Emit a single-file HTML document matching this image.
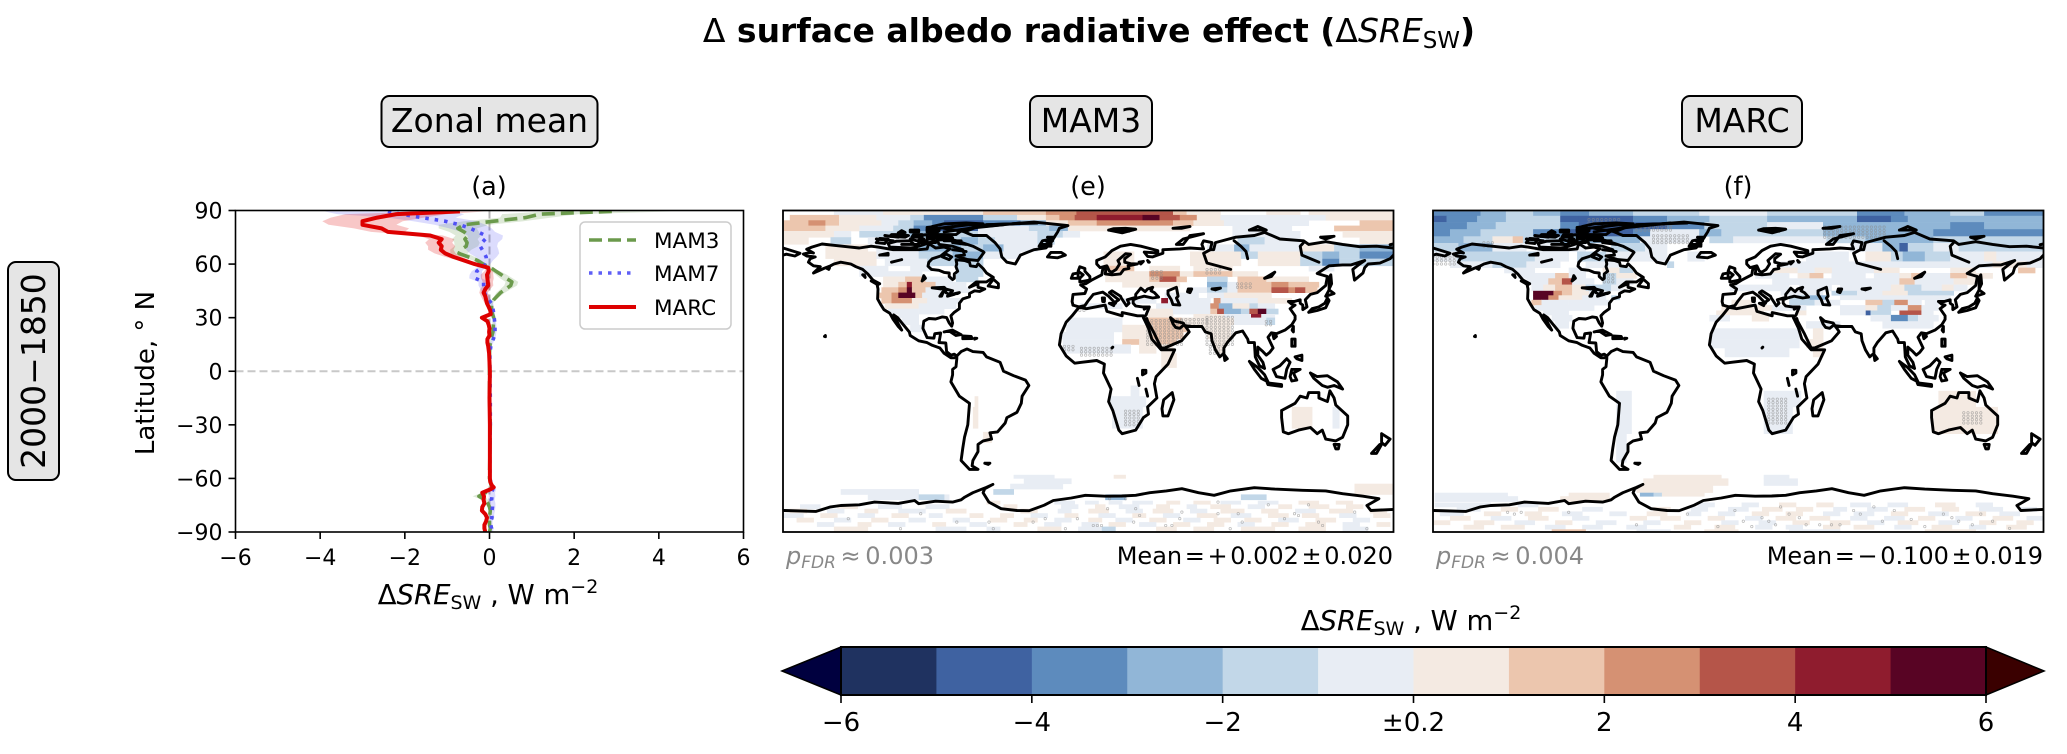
<!DOCTYPE html>
<html lang="en">
<head>
<meta charset="utf-8">
<title>Surface albedo radiative effect</title>
<style>
html,body{margin:0;padding:0;background:#fff;width:2067px;height:754px;overflow:hidden}
svg{display:block;font-family:"DejaVu Sans","Liberation Sans",sans-serif}
</style>
</head>
<body>
<svg id="fig" xmlns="http://www.w3.org/2000/svg" width="2067" height="754" viewBox="0 0 2067 754">
<defs>
<clipPath id="clip-a"><rect x="235.5" y="210.5" width="508" height="321.5"/></clipPath>
<clipPath id="clip-e"><rect x="783" y="210.5" width="610.5" height="321.5"/></clipPath>
<clipPath id="clip-f"><rect x="1433" y="210.5" width="610.5" height="321.5"/></clipPath>
</defs>
<rect width="2067" height="754" fill="#fff"/>
<text x="1089" y="42" text-anchor="middle" font-size="33" font-weight="bold"><tspan font-weight="normal">Δ</tspan> surface albedo radiative effect (<tspan font-weight="normal">Δ</tspan><tspan font-weight="normal" font-style="italic">SRE</tspan><tspan font-weight="normal" font-size="23" dy="6">SW</tspan><tspan dy="-6">)</tspan></text>

<g><rect x="381.5" y="96" width="216" height="51" rx="8" fill="#e5e5e5" stroke="#000" stroke-width="2"/><text x="489.5" y="132" text-anchor="middle" font-size="33">Zonal mean</text></g>
<g><rect x="1030" y="96" width="122" height="51" rx="8" fill="#e5e5e5" stroke="#000" stroke-width="2"/><text x="1091" y="132" text-anchor="middle" font-size="33">MAM3</text></g>
<g><rect x="1682" y="96" width="120" height="51" rx="8" fill="#e5e5e5" stroke="#000" stroke-width="2"/><text x="1742" y="132" text-anchor="middle" font-size="33">MARC</text></g>
<g><rect x="8" y="262" width="51" height="218" rx="8" fill="#e5e5e5" stroke="#000" stroke-width="2"/><text transform="translate(45,371) rotate(-90)" text-anchor="middle" font-size="33">2000−1850</text></g>

<text x="489" y="195" text-anchor="middle" font-size="25.5">(a)</text>
<text x="1088" y="195" text-anchor="middle" font-size="25.5">(e)</text>
<text x="1738" y="195" text-anchor="middle" font-size="25.5">(f)</text>

<g id="zonal"></g>
<text transform="translate(154,373) rotate(-90)" text-anchor="middle" font-size="26">Latitude, ° N</text>
<text x="488" y="604" text-anchor="middle" font-size="27.5">Δ<tspan font-style="italic">SRE</tspan><tspan font-size="19" dy="5">SW</tspan><tspan dy="-5"> , W m</tspan><tspan font-size="19" dy="-11">−2</tspan></text>

<g>
<rect x="580" y="222" width="151" height="107" rx="5" fill="#fff" fill-opacity=".85" stroke="#ccc" stroke-width="1.5"/>
<line x1="589" x2="636" y1="240" y2="240" stroke="#6b9a4c" stroke-width="3.5" stroke-dasharray="13 6"/>
<text x="654" y="248" font-size="21.5">MAM3</text>
<line x1="589" x2="636" y1="273" y2="273" stroke="#5e5ef5" stroke-width="3.5" stroke-dasharray="3.5 6"/>
<text x="654" y="281" font-size="21.5">MAM7</text>
<line x1="589" x2="636" y1="307" y2="307" stroke="#dd0000" stroke-width="4"/>
<text x="654" y="315" font-size="21.5">MARC</text>
</g>

<g id="map-e"></g>
<g id="map-f"></g>

<text x="786" y="564" font-size="24" fill="#888" word-spacing="-3"><tspan font-style="italic">p</tspan><tspan font-style="italic" font-size="17" dy="4">FDR</tspan><tspan dy="-4"> ≈ 0.003</tspan></text>
<text x="1393" y="564" text-anchor="end" font-size="24" word-spacing="-5">Mean = + 0.002 ± 0.020</text>
<text x="1436" y="564" font-size="24" fill="#888" word-spacing="-3"><tspan font-style="italic">p</tspan><tspan font-style="italic" font-size="17" dy="4">FDR</tspan><tspan dy="-4"> ≈ 0.004</tspan></text>
<text x="2043" y="564" text-anchor="end" font-size="24" word-spacing="-5">Mean = − 0.100 ± 0.019</text>

<g id="cbar"></g>
<text x="1411" y="630" text-anchor="middle" font-size="27.5">Δ<tspan font-style="italic">SRE</tspan><tspan font-size="19" dy="5">SW</tspan><tspan dy="-5"> , W m</tspan><tspan font-size="19" dy="-11">−2</tspan></text>
</svg>

<script>
/* ---------- zonal mean data ---------- */
const lats = [89.5,88,86,84,82,80,78,76,74,72,70,68,66,64,62,60,58,56,54,52,50,48,46,44,42,40,38,36,34,32,30,28,26,24,22,20,18,16,14,10,0,-15,-30,-45,-60,-62,-64,-65,-66,-68,-70,-72,-74,-76,-78,-80,-82,-84,-86,-88,-90];
const marcValues = [-0.7,-2.2,-2.65,-3.0,-3.0,-2.55,-2.4,-1.4,-1.13,-1.2,-1.13,-1.15,-1.05,-.85,-.6,-.35,-.03,-.02,-.06,-.05,-.04,-.03,-.1,-.14,-.1,-.08,-.06,-.02,.02,.03,-.18,-.05,-.02,0,-.01,0,-.05,-.05,-.03,-.01,.01,0,.01,.01,.01,.02,.06,.1,.03,-.17,-.13,-.14,-.12,-.17,-.18,-.1,-.06,-.08,-.12,-.12,-.1];
const mam3Values = [2.89,1.2,.85,.1,-.6,-.75,-.6,-.5,-.58,-.53,-.55,-.68,-.72,-.5,-.28,-.15,.03,.15,.28,.4,.53,.5,.38,.26,.18,.1,.05,.05,.05,.07,.1,.1,.09,.09,.08,.06,.04,.02,.01,0,0,0,.02,.01,0,.02,.04,.05,.04,-.1,-.25,-.1,-.04,0,.02,.01,0,0,0,.02,0];
const mam7Values = [-2.4,-2.1,-1.6,-1.05,-.7,-.45,-.27,-.1,-.1,-.18,-.22,-.17,-.12,-.08,-.07,-.08,-.2,-.3,-.32,-.33,-.14,-.14,-.13,-.12,-.08,-.02,.05,.07,.09,.1,.11,.12,.13,.13,.13,.12,.09,.06,.03,.01,.01,.02,.02,.01,.01,.03,.05,.07,.08,.05,.06,.05,.07,.07,.06,.05,.06,.03,.03,.05,.05];
const marcSpread = [.6,1.2,1.1,.95,.8,.65,.4,.3,.3,.32,.32,.3,.25,.2,.15,.1,.05,.1,.15,.15,.12,.12,.12,.1,.1,.08,.05,.04,.03,.03,.03,.03,.02,.02,.02,.02,.02,.02,.02,.01,.01,.01,.01,.01,.01,.02,.02,.02,.02,.03,.03,.03,.03,.03,.03,.03,.03,.03,.03,.03,.03];
const mam3Spread = [1.5,.9,.6,.7,.6,.45,.35,.3,.3,.3,.28,.25,.2,.15,.1,.08,.06,.1,.13,.15,.15,.15,.12,.1,.07,.05,.03,.03,.03,.03,.03,.03,.03,.02,.02,.02,.02,.02,.01,.01,.01,.01,.01,.01,.02,.03,.04,.04,.04,.08,.15,.06,.04,.04,.04,.03,.03,.03,.03,.03,.03];
const mam7Spread = [1.5,1.5,.8,.75,.6,.5,.4,.42,.4,.38,.4,.38,.35,.25,.15,.1,.1,.12,.15,.15,.12,.12,.08,.07,.06,.05,.04,.03,.03,.03,.03,.03,.03,.03,.03,.03,.03,.03,.02,.01,.01,.01,.01,.01,.02,.03,.05,.07,.08,.08,.08,.07,.07,.07,.07,.06,.05,.04,.04,.04,.04];
const xTickValues = [-6,-4,-2,0,2,4,6];
const yTickValues = [90,60,30,0,-30,-60,-90];

/* ---------- colour scale ---------- */
const levelColors = ["#1f3260","#3f62a1","#5d8bbd","#91b6d7","#c2d7e8","#e8edf4","#f4eae2","#ecc6ae","#d59173","#b55549","#8f1c2e","#580424"];
const levelBounds = [-5,-4,-3,-2,-1,0,1,2,3,4,5];
const cbarTickLabels = ["−6","−4","−2","±0.2","2","4","6"];

/* ---------- MAM3 map: [latS, latN, [lonW, lonE, value, ...]] ---------- */
const mam3Cells = [
[87.5,89.5,[-150,-121,-.6,-121,-62,.6,-62,-25,1.5,-25,-7,2.5,-7,50,3.5,50,58,1.5,58,78,.6,105,125,.6,130,180,.6]],
[84.5,87.5,[-176,-147,1.5,-147,-125,.6,-125,-105,-.6,-105,-97,-1.5,-97,-62,-3.5,-62,-42,-1.5,-42,-25,.6,-25,-17,1.5,-17,-8,2.5,-8,5,3.5,5,32,4.5,32,42,5.5,42,54,3.5,54,64,2.5,64,78,.6,78,105,-.6,105,140,-.6,140,180,.6]],
[81.5,84.5,[-180,-165,1.5,-165,-155,2.5,-155,-147,1.5,-147,-122,.6,-122,-112,-.6,-112,-103,-1.5,-103,-92,-2.5,-92,-85,-3.5,-85,-62,-4.5,-62,-40,-3.5,-40,-25,-2.5,-25,-12,.6,-12,5,1.5,5,50,2.5,50,62,1.5,62,80,.6,80,130,-.6,160,180,1.5]],
[78.5,81.5,[-180,-155,1.5,-155,-135,.6,-135,-115,-.6,-115,-103,-1.5,-103,-90,-3.5,-90,-65,-4.5,-65,-35,-.6,-35,-23,-1.5,-23,-12,-2.5,-12,60,.6,85,120,-.6,145,180,1.5]],
[75,78.5,[-180,-150,.6,-150,-140,-.6,-135,-105,-1.5,-105,-82,-2.5,-82,-65,-1.5,-65,-30,-.6,-30,-15,-1.5,-15,-5,-.6,85,125,-.6,150,180,.6]],
[71,75,[-180,-165,.6,-152,-140,-1.5,-130,-100,-.6,-100,-75,-1.5,-75,-65,-2.5,-65,-55,-1.5,-55,-30,-.6,-30,-20,-1.5,88,104,-1.5,104,125,-.6,160,180,.6]],
[67,71,[-155,-130,.6,-125,-100,-.6,-100,-75,-2.5,-75,-62,-1.5,-62,-50,-2.5,-50,-30,-.6,70,86,-.6,86,95,-2.5,95,125,-.6,125,145,.6,145,160,-1.5,160,180,-2.5]],
[63,67,[-155,-125,.6,-125,-100,-.6,-100,-80,-1.5,-80,-62,-2.5,-62,-40,-.6,9,27,.6,60,90,.6,90,100,-1.5,100,125,.6,125,138,-1.5,138,148,-2.5,148,160,-1.5,160,180,-3.5]],
[59,63,[-150,-125,.6,-120,-95,-.6,-95,-62,-1.5,9,27,.6,60,90,.6,100,125,.6,125,138,-1.5,138,148,-3.5,148,180,-1.5]],
[56,59,[-135,-118,-.6,-105,-92,-.6,-78,-62,-1.5,9,27,1.5,36,54,.6,62,85,.6,130,145,-.6]],
[53,56,[-135,-118,-.6,-118,-98,-.6,-78,-62,-1.5,10,25,.6,25,36,.6,36,54,2.5,54,62,.6,62,85,1.5,85,100,.6]],
[50,53,[-121,-108,.6,-108,-96,1.5,-96,-80,-.6,-78,-65,-1.5,10,36,.6,36,42,1.5,42,52,3.5,52,58,1.5,70,82,-1.5,88,105,1.5,105,130,.6]],
[47,50,[-121,-112,.6,-112,-107,1.5,-107,-104,4.5,-104,-90,1.5,-90,-72,-.6,20,40,.6,40,54,.6,70,82,-2.5,82,88,-.6,88,108,1.5,108,118,2.5,118,136,1.5]],
[44,47,[-122,-112,1.5,-112,-107,2.5,-107,-104,5.5,-104,-96,1.5,-96,-82,-.6,-82,-70,-.6,60,70,-.6,70,82,-1.5,82,88,-.6,88,108,1.5,108,118,3.5,118,122,2.5,122,128,3.5,128,135,1.5]],
[41,44,[-124,-116,1.5,-116,-112,2.5,-112,-102,5.5,-102,-98,1.5,-98,-82,-.6,45,65,-.6,70,80,-.6,80,90,.6,90,108,.6]],
[38,41,[-122,-116,1.5,-116,-104,2.5,-104,-95,.6,-95,-75,-.6,20,40,-.6,43,47,4.5,47,72,-.6,74,78,2.5,78,100,-.6,100,120,.6]],
[35,38,[-120,-100,.6,-100,-78,-.6,-5,20,-.6,40,72,-.6,72,77,2.5,77,85,-2.5,85,95,.6,95,100,-1.5,100,110,-.6]],
[32,35,[-118,-100,-.6,-100,-85,-.6,36,50,.6,50,72,-.6,72,76,1.5,76,80,3.5,80,90,-2.5,90,95,-1.5,95,100,3.5,100,105,5,105,112,-1.5]],
[30,32,[-112,-100,-.6,35,50,.6,62,72,.6,72,80,.6,80,96,-.6,96,102,4.5,102,110,-.6]],
[26,30,[-110,-100,-.6,-12,20,-.6,34,55,1.5,55,72,.6,72,86,.6,86,105,-.6,105,110,-1.5]],
[22,26,[-105,-98,-.6,-13,20,-.6,20,38,.6,38,58,1.5,68,84,.6]],
[18,22,[-16,15,-.6,20,38,.6,38,56,1.5,70,84,.6]],
[15,18,[-15,15,-.6,20,30,1.5,30,40,.6,40,52,1.5,74,82,.6]],
[10,15,[-15,15,-.6,15,25,-.6,30,40,.6,43,50,.6,75,80,.6]],
[2,10,[43,52,.6]],
[-14,-8,[25,30,-.6]],
[-20,-14,[13,34,-.6,-67,-65,.6]],
[-32,-20,[14,32,-.6,-68,-65,.6,120,132,.6,144,148,-.6]],
[-40,-34,[-62,-57,.6]],
[-60,-58,[15,22,.6,-44,-20,-.6]],
[-63,-60,[-38,-10,-.6]],
[-66,-63,[-46,-15,-.6,157,180,.6]],
[-69,-66,[-146,-100,-.6,-56,-44,-1.5,157,180,.6]],
[-72,-69,[-130,-82,-.6,-100,-85,-1.5,10,22,-2.5,90,105,-1.5]],
[-74.5,-72.5,[-60,-52,.6,-20,-8,-.6,-2,6,-.6,12,20,-.6,26,38,-.6,46,54,.6,62,72,.6,78,90,-.6,100,112,-.6,124,136,.6,146,156,.6]],
[-77,-74.5,[-170,-158,-.6,-148,-136,.6,-124,-110,-.6,-96,-82,-.6,-50,-42,.6,-16,-6,-.6,4,10,.6,18,30,-.6,40,48,.6,58,64,-.6,72,84,.6,94,104,-.6,112,120,.6,130,142,.6,152,162,.6]],
[-79.5,-77,[-176,-166,.6,-154,-144,-.6,-132,-124,.6,-112,-96,-.6,-84,-72,.6,-40,-30,.6,-18,-10,-.6,0,12,.6,22,32,-.6,38,50,.6,60,70,-.6,78,92,.6,102,112,.6,122,134,-.6,142,156,.6,166,176,.6]],
[-82,-79.5,[-180,-168,-.6,-158,-148,.6,-136,-126,-.6,-116,-106,.6,-94,-86,-.6,-70,-62,.6,-52,-44,.6,-34,-24,-.6,-14,-6,.6,6,16,-.6,26,34,.6,44,54,-.6,64,76,.6,84,96,-.6,106,118,.6,126,136,.6,148,158,-.6,168,178,.6]],
[-84.5,-82,[-172,-162,.6,-150,-140,-.6,-128,-118,.6,-106,-96,-.6,-80,-70,-.6,-58,-48,.6,-38,-30,.6,-20,-10,-.6,0,8,.6,16,26,-.6,36,46,.6,56,66,-.6,74,84,.6,92,102,.6,112,124,-.6,134,146,.6,156,166,-.6]],
[-87,-84.5,[-160,-150,-.6,-136,-128,.6,-118,-108,-.6,-92,-84,.6,-70,-60,-.6,-44,-36,.6,-26,-16,-.6,-4,6,-.6,12,22,.6,30,40,-.6,50,60,.6,70,80,.6,88,98,-.6,108,118,.6,128,140,.6,150,160,-.6,170,178,.6]],
[-89.5,-87,[-150,-130,.6,-90,-72,-.6,-60,-52,-.6,-30,-16,.6,-6,8,-.6,8,16,-1.5,40,52,.6,62,74,.6,90,110,.6,124,140,.6,150,165,-.6]]
];

/* ---------- MARC map ---------- */
const marcCells = [
[87,89.5,[-180,-152,-3.5,-152,-137,-2.5,-137,-121,-1.5,-121,-105,-2.5,-105,-88,-3.5,-88,-62,-2.5,-62,-23,-1.5,-23,17,-.6,17,36,-1.5,36,70,-1.5,70,98,-3.5,98,125,-2.5,125,145,-1.5,145,180,-3.5]],
[83.5,87,[-180,-172,-4.5,-172,-154,-3.5,-154,-137,-2.5,-137,-105,-1.5,-105,-94,-4.5,-94,-62,-4.5,-62,-42,-3.5,-42,-17,-2.5,-17,17,-1.5,17,36,-2.5,36,70,-2.5,70,90,-4.5,90,100,-3.5,100,180,-2.5]],
[79.5,83.5,[-180,-160,-3.5,-160,-143,-2.5,-143,-105,-1.5,-105,-94,-3.5,-94,-42,-4.5,-42,-20,-3.5,-20,17,-1.5,17,50,-.6,50,85,-2.5,85,125,-2.5,125,145,-3.5,145,180,-3]],
[75.5,79.5,[-180,-170,-3.5,-170,-152,-2.5,-152,-121,-1.5,-121,-103,-3.5,-103,-62,-4.5,-62,-52,-3.5,-52,-23,-.6,-23,-10,-2.5,-10,50,-1.5,50,85,-2.5,85,115,-2.5,115,180,-3.5]],
[71.8,75.5,[-180,-162,-2.5,-162,-145,-1.5,-145,-133,.6,-133,-127,1.5,-127,-105,-1.5,-105,-68,-2.5,-68,-58,-2.5,-58,-23,-.6,-17,-3,-1.5,-3,52,-.6,52,75,-1.5,75,100,-2.5,100,115,-3,115,180,-1.5]],
[67,71.8,[-180,-165,-1.5,-165,-145,-2.5,-145,-125,-.6,-120,-90,-.6,-75,-55,-1.5,-55,-42,-.6,66,85,-.6,85,95,-2.5,95,100,-4.5,100,115,-1.5,115,130,-.6,130,140,-1.5,140,180,-1.5]],
[61.5,67,[-180,-166,-.6,-166,-145,-1.5,-145,-120,-1.5,-120,-100,-.6,-95,-78,-1.5,-78,-62,-.6,-62,-42,-.6,-30,-20,-.6,40,65,-.6,75,90,.6,90,97,-1.5,97,110,-3,110,125,-1.5,125,180,-.6,145,152,.6]],
[58,61.5,[-170,-145,-.6,-145,-125,-1.5,-125,-105,-.6,-90,-70,-.6,-42,-38,-1.5,25,60,-.6,60,90,-.6,90,130,-.6,125,180,-.6,150,170,.6]],
[55,58,[-138,-120,-.6,-100,-90,-.6,-80,-70,.6,-70,-62,-1.5,20,35,.6,35,60,-.6,45,55,.6,60,80,-.6,80,95,.6,125,140,.6,165,175,1.5]],
[52,55,[-130,-108,-.6,-108,-100,1.5,-100,-90,-.6,-80,-72,-1.5,-72,-60,.6,10,30,-.6,35,42,.6,42,50,1.5,55,75,-.6,80,95,-.6,95,102,.6,102,108,1.5,108,125,-.6,125,135,1.5,135,150,.6]],
[48.5,52,[-125,-112,-.6,-112,-104,1.5,-104,-98,3.5,-98,-85,-.6,-80,-72,-1.5,-72,-62,-.6,20,45,-.6,45,60,-.6,60,75,-.6,75,85,-.6,85,95,-.6,95,104,1.5,104,112,-.6,112,127,-.6,127,140,.6]],
[45,48.5,[-122,-115,-.6,-115,-108,.6,-108,-98,1.5,-98,-90,.6,-90,-75,-1.5,-75,-68,-.6,-5,30,-.6,36,42,-.6,42,55,-.6,60,90,-.6,90,98,.6,98,108,-1.5,108,120,-.6,120,127,.6,127,135,-.6]],
[42.5,45,[-121,-109,5.5,-109,-104,2.5,-104,-98,1.5,-98,-88,.6,-88,-78,-.6,25,50,-.6,55,70,-1.5,70,85,-.6,85,100,.6,100,115,-1.5,115,127,-1.5]],
[40,42.5,[-121,-112,5.5,-112,-106,2.5,-106,-92,.6,-92,-78,-.6,-75,-70,-1.5,30,42,-1.5,42,52,-2.5,60,72,-.6,72,100,-.6,100,115,-.6,115,125,-.6]],
[37,40,[-122,-116,1.5,-116,-100,-.6,-100,-76,-.6,-4,8,.6,30,45,-1.5,45,60,-.6,75,85,1.5,85,92,-1.5,92,100,2.5,100,108,-.6,110,118,-.6]],
[34,37,[-120,-100,-.6,-100,-85,-.6,-10,20,.6,20,40,-.6,60,75,-.6,75,82,.6,82,90,-1.5,90,100,-.6,100,108,2.5,108,118,-.6]],
[31.5,34,[-115,-100,-.6,-13,15,.6,34,40,.6,75,78,-4.5,78,90,-1.5,95,108,3.5,108,115,-.6,60,75,-.6]],
[28,31.5,[-110,-98,-.6,-17,-5,-.6,8,18,.6,78,95,-.6,90,100,-3.5,100,106,-1.5,106,118,-.6]],
[24,28,[-108,-100,-.6,40,60,-.6,85,115,-.6]],
[18,24,[-16,36,-.6,44,50,.6]],
[13,18,[-16,36,-.6,40,50,.6]],
[8,13,[-8,30,-.6,44,50,.6]],
[-20,-11,[15,37,-.6,-72,-63,-.6,118,140,.6]],
[-35,-20,[15,32,-.6,-72,-63,-.6,115,153,.6]],
[-51,-35,[-72,-66,-.6]],
[-60,-58,[-50,-10,.6,15,30,-.6]],
[-64,-60,[-56,-6,.6,15,35,-.6]],
[-68,-64,[-60,-35,.6,-35,-15,.6]],
[-70,-68,[-179,-136,-.6,-100,-76,.6,-58,-50,-2.5,-50,-45,-1.5,-45,-20,.6]],
[-73,-70,[-179,-130,-.6,-105,-76,.6]],
[-76,-73.5,[-179,-146,-.6,-130,-118,-.6,-24,-14,-.6,2,12,-.6,24,34,.6,46,56,.6,66,78,-.6,88,100,-.6,116,128,.6,140,150,-.6]],
[-78.5,-76,[-166,-152,-.6,-140,-130,.6,-118,-106,.6,-92,-80,-.6,-50,-40,.6,-28,-18,-.6,-6,6,-.6,14,26,.6,34,44,.6,56,64,-.6,76,88,-.6,98,110,.6,120,130,.6,142,156,-.6,166,176,-.6]],
[-81,-78.5,[-176,-162,-.6,-150,-140,.6,-126,-116,.6,-104,-92,-.6,-76,-66,-.6,-54,-42,.6,-30,-22,-.6,-12,-2,-.6,8,18,.6,28,38,.6,50,60,-.6,68,80,-.6,90,100,.6,112,124,-.6,134,146,.6,154,166,-.6]],
[-83.5,-81,[-170,-158,.6,-146,-134,-.6,-124,-112,.6,-98,-88,-.6,-64,-54,.6,-46,-34,.6,-18,-8,.6,4,14,-.6,22,34,.6,42,54,.6,66,76,-.6,86,98,-.6,106,116,.6,128,138,-.6,150,162,.6,170,180,-.6]],
[-86,-83.5,[-180,-170,.6,-156,-144,.6,-132,-120,-.6,-108,-98,.6,-84,-72,-.6,-56,-46,-.6,-32,-22,.6,-10,0,-.6,12,22,-.6,32,42,.6,54,66,.6,76,86,-.6,94,106,.6,118,130,-.6,142,152,.6,164,174,.6]],
[-88.5,-86,[-162,-150,.6,-140,-126,.6,-114,-102,-.6,-92,-80,-.6,-66,-54,-.6,-38,-28,.6,-14,-2,.6,10,20,-.6,28,38,-.6,50,60,.6,68,80,.6,92,102,-.6,114,126,.6,136,146,-.6,158,170,.6]],
[-90,-88.5,[-110,-90,1.5,-60,-40,-.6,-20,0,.6,30,60,-.6,110,140,.6]]
];

/* stippling: significant regions [lonW, lonE, latS, latN] and isolated points [lon, lat] */
const mam3StippleRegions = [[35,55,15,30],[50,72,27,30],[70,86,15,32],[72,80,10,15],[-4,15,9,14],[-14,-8,12,15],[22,30,-30,-22],[38,44,52,56],[70,78,55,57],[88,96,47,49],[105,108,26,28],[-5,-2,34,36]];
const mam3StipplePoints = [[-141.5,-82.6],[-110.7,-88.2],[-98.8,-79.8],[-77.5,-84.5],[-58.5,-84.5],[-56,-88.2],[-32.5,-84.5],[-25.4,-82.6],[-13.5,-88.2],[-6.4,-82.6],[3,-86.4],[5.4,-86.4],[7.8,-86.4],[11.4,-77],[12.6,-71.4],[22,-71.4],[28,-77],[30.3,-80.8],[26.8,-84.5],[45.7,-86.4],[49.3,-86.4],[54,-82.6],[55.2,-78.9],[76.5,-73.3],[76.5,-79.8],[88.4,-79.8],[90.8,-84.5],[83.7,-88.2],[106.2,-74.8],[115.7,-82.6],[121.6,-79.8],[124,-80.8],[129.9,-74.8],[135.8,-84.5],[138.2,-86.4],[157.1,-78.9],[164.3,-88.2]];
const marcStippleRegions = [[51,87,75,81],[-60,-40,79,81],[-50,-30,72,76],[-88,-70,83,85],[-180,-166,60,64],[18,30,-29,-15],[133,143,-29,-22],[-79,-74,50,54],[-150,-145,70,72]];
const marcStipplePoints = [[-136,-79],[-132,-80],[-128,-79],[-100,-79],[-60,-86],[-30,-80],[-12,-87],[-2,-78],[3,-84],[8,-87],[14,-82],[18,-84],[22,-86],[25,-76],[30,-80],[36,-82],[40,-86],[48,-86],[55,-86],[60,-86],[68,-78],[72,-80],[80,-76],[85,-84],[92,-78],[102,-83],[110,-87],[121,-80],[126,-82],[130,-84],[138,-86],[143,-80],[150,-84],[160,-88]];

/* coastlines as flat lon,lat lists */
const coastlines = [
[-168,65.6,-164,66.5,-162,66.2,-166,68.3,-163,69.5,-157,71.2,-150,70.5,-141,69.6,-135,69,-128,70,-124,69.5,-115,68,-108,68,-100,68,-95,68.5,-94,71.5,-90,69,-85,69.5,-81.5,68.5,-85,66,-87,64.5,-92,63,-94,61,-94.5,58.8,-92.5,57,-88,56.5,-85,55.3,-82,55,-82,53,-80,51.3,-79,52,-79,54.5,-77,56,-78,58.5,-77.5,60,-78,62.4,-73,62,-70,61,-69.5,59,-66,58.5,-65,60.2,-62,57.5,-60,55,-56,52.5,-60,50,-66,50,-70,47,-65,49,-65,47,-61,46,-64,44.7,-67,45,-70,43.5,-70,41.7,-74,40.5,-76,38,-76,35,-79,33,-81,31,-80,27,-80.5,25.2,-82,27,-83.5,30,-86,30.4,-90,29.2,-94,29.5,-97,28,-97.5,24,-95,18.8,-91,18.5,-90.5,21,-87,21.4,-88,16,-84,15.8,-83.5,11,-81,9,-79,9.5,-77.5,8.5,-79,7.5,-81,7.5,-85,10,-87.5,13,-92,14.5,-95,16,-100,17,-105,20,-105.5,22,-109,26,-112.5,30,-114.7,31.5,-112,26.5,-110,23,-112,25,-115,29,-117,32.5,-120.5,34.5,-122.5,37.5,-124.2,40.5,-124,46,-124.5,48.5,-123,49,-127,51,-130,54.5,-133,57,-137,58.5,-140,60,-146,61,-150,60,-152,59,-156,57.5,-162,55,-158,58.5,-162,59,-165,61,-164,63,-161,64,-166,64.5,-168,65.6],
[-125,72,-120,71.5,-118,74,-123,74.3,-125,72],
[-117,69.5,-105,69,-101,69.5,-105,73,-113,72.8,-118,71.5,-117,69.5],
[-61.5,66.5,-65,62,-71,62.5,-78,64.5,-73,65,-74,68,-80,70,-88,71,-89,73.5,-80,73.7,-76,72.5,-68,70,-62,67,-61.5,66.5],
[-86,64,-82,62.5,-80.5,64,-84,65.7,-86,64],
[-95,72,-90,72,-91,74,-95,74,-95,72],
[-100,72,-96,72,-97,74,-100,73.5,-100,72],
[-117,75.5,-108,75,-106,76,-110,76.5,-116,76.5,-117,75.5],
[-104,75,-98,75,-98,76.5,-103,76.5,-104,75],
[-92,74.7,-80,74.7,-82,75.8,-92,76.5,-92,74.7],
[-90,76.5,-78,76.5,-75,78.5,-68,80.5,-62,82.5,-72,83,-85,82.5,-92,81,-88,79,-90,76.5],
[-95,78,-88,78.5,-90,81,-95,80.5,-95,78],
[-105,78,-100,78,-100,79,-105,79,-105,78],
[-112,77.5,-108,77.7,-110,78.7,-112,77.5],
[-120,76,-112,75],[-125,74,-115,73],[-100,76,-90,77],[-85,78,-70,80],[-95,75,-85,76],[-80,72,-72,71],[-110,71,-100,71],[-100,70,-90,73],[-88,80,-70,82],[-75,82,-62,82],[-85,80,-72,78],[-95,79,-80,81],[-105,74,-97,72],[-85,73,-75,73],[-80,68,-72,67],
[-60,82,-30,83],[-70,80,-40,83],[-62,81,-50,82],
[-27,71,-22,71,-25,73,-21,73,-24,75,-20,75],
[-59,47.7,-53,46.7,-53,49,-56,51.5,-59,47.7],
[-128,50.5,-124,48.4,-123.5,49,-127,51,-128,50.5],
[-133,54,-131.5,52.5,-132,54,-133,54],
[-154,57.5,-152.5,58,-153,57,-154,57.5],
[-155.5,19.5,-155,20,-155,19.3,-155.5,19.5],
[-73,78,-68,76,-60,76,-55,72,-52,68.5,-51,64,-48,61,-43,60,-40,65,-32,68,-25,69,-22,72,-20,75,-18,78,-17,80,-12,81.5,-22,82.5,-32,83.5,-45,82.5,-60,82,-65,81,-73,78],
[-29,70,-22,70,-22,74,-27,73,-29,70],
[-24,64,-18,63.5,-13.5,65,-16,66.5,-22,66.5,-24,64],
[12,79,20,77.5,28,79.5,22,80,15,79.8,12,79],[14,78.8,26,79],[16,79.5,24,78.4],
[-9,37,-9.5,39,-9,43,-2,43.5,-1,46,-4.5,48.3,-1.5,49,2,51,4,52,8,54,8.5,57,10.5,57.5,10,54.5,14,54,19,54.5,21,57,24,57.5,23.5,59,29,60,25,60.2,21.5,61,21.5,63,25,65.5,22,65.8,17.5,62,18.5,60,16.5,57,14,55.5,12.5,56,11,59,7,58,5,60,5,62,10,64,14,67.5,19,70,25,71,31,70,41,67.5,41,66.2,33,66.7,35,64.3,38,64,40,64.7,44,66,44,68,54,68.5,60,69,68,68.5,67,71,68,73,73,72,72,68,74,68,75,72,81,73.5,87,75,98,76,104,77.7,113,74,127,73,130,71,140,72.5,150,71,160,69.7,170,70,180,69],
[72,68,68,66,70,60.6,84,57],[86,73,90,70,93,67,94,63],[127,72,125,70,126,65,136,61],
[30,61,32.5,61.5,31,60,30,61],[35,62,36,61,35.5,61,35,62],
[73,46,78,46.5,75,45.5,73,46],
[-180,69,-175,67.5,-170,66,-173,64.5,-178,65.5,-180,65],
[180,65,178,63,172,60.5,165,60,163,58,162,55,157,51,156,57,160,60,163,62,155,59.5,150,59.5,142,59,135,54.7,141,53,140,48,135,44,131,43,128,40,129,36,126.5,34.5,126.5,37,125,38,125,40,121.5,39,118,39,120,37.5,122,37,119,35,122,31,122,29,120,26,116,23,111,21,108,21.5,106,19,109,13,107,10.5,105,9,103,11,100,13.5,100,9,103,5,104,1.5,101,3,98.5,8,98,16,94.5,16,94,18,91,22.5,87,21.5,82,16,80,13,80,10,77.5,8,75,12,73,17,72.5,21,69,22,67,25,61,25,57,25.5,56,27,51,28,48.5,30,50,26.5,51.5,24.5,54,24,56.5,26,58.5,23.5,59.5,22,55,17,45,13,43,13,39,21,35,28,34.5,29.5,34,27.8,32.5,30,34,31.3,36,36,32,36,28,36.5,26.5,38,26.5,40,29,41,33,42,38,41,41.5,41.5,39,44,37,45,38,47,35,46,33.5,44.5,31,46.5,28,43,28,41.3,26,40.8,23,40,24,38,22.5,36.6,19.5,41,19,42,14,45,12.5,44,18,40,16.5,39,16,38,12,42,8.5,44.3,3,43,0,39.5,-2,36.8,-5.5,36,-9,37],
[-5.5,35.8,-1,35,10,37,11,33.5,20,31,20,32.8,29,31,32.5,31,32.5,30,35.5,24,37.5,18,43,12,51,12,47,4,40,-3,39,-7,40.5,-15,35,-20,35.5,-24,32.5,-26,28,-33,20,-35,18,-33,14.5,-22,12,-17,13.5,-10,9,-1,9.5,4,5,6,-4,5,-8,4.5,-13,8.5,-17,14.7,-16,21,-13,27.5,-9.5,31,-5.5,35.8],
[47,45,52,47,53,42,52,41,54,37,50,37.3,49,40,47,43,47,45],
[59,46,61,46,60,44,58.5,44.5,59,46],
[104,52,110,55.5,108,53,104,52],
[-92,46.7,-85,47,-84.5,46.5,-87,46,-92,46.7],
[-87.5,42,-85,45.5,-86.5,42,-87.5,42],
[-84,46,-80,45,-82,43,-84,44,-84,46],
[-83,42,-79,43,-83,42],
[-79.5,43.3,-76,44,-77,43.5,-79.5,43.3],
[-98,50.5,-97,53.5,-96,52,-98,50.5],
[-123,65,-118,66,-118,65,-123,65],
[-116,61,-110,62.5,-112,62,-116,61],
[32,-2,34,-1,34,.5,32,.5,32,-2],
[29,-4,30,-8,29.5,-6,29,-4],
[34,-10,35,-14,34.5,-12,34,-10],
[14,13,14.5,13.5,14,13],
[49.5,-12,50.5,-16,47,-25,44,-25,43.5,-21,44.5,-16,49.5,-12],
[-77.5,8.5,-75,11,-71.5,12.5,-68,11,-62,10.5,-60,8,-52,5,-50,0,-44,-2.5,-37,-5,-35,-8,-39,-14,-39.5,-18,-42,-23,-48,-26,-49,-29,-53.5,-34,-58,-34.5,-57,-38,-62,-39,-65,-41,-65,-45,-68,-50,-68.5,-53,-65,-55,-70,-55,-75,-50,-74,-43,-73,-37,-71,-30,-70,-18,-76,-14,-81,-6,-80,-2,-80,1,-78,2.5,-77.5,7,-77.5,8.5],
[-61,-51.5,-58,-51.5,-59,-52.2,-61,-51.5],
[114,-22,114,-26,115,-34,118,-35,124,-33,131,-31.5,135,-35,138,-33,140,-38,146,-39,150,-37,153,-30,153,-25,146,-19,145,-15,142.5,-11,141,-17,136,-15,136,-12,130,-12,129,-15,125,-14,122,-18,114,-22],
[145,-41,148,-41,147.5,-43.5,146,-43.5,145,-41],
[173,-35,178,-38,175,-41.5,173,-40,173,-35],
[173,-41,170,-46,167,-46,172,-41,173,-41],
[130,33,135,34,140,35.5,142,39.5,141,41,139.5,38,136,36,132,35,130,33],
[140,42,145,43.5,142,45.5,140,42],
[142,46,143.5,49,143,54,142,52,142,46],
[120,18,122,18,122,14,120,14,120,18],
[122,8,126,9,126,6,123,7,122,8],
[109,1,113,3,117,7,119,5,117,1,116,-4,111,-3,109,1],
[95,5.5,100,2,104,-2,106,-6,102,-4,98,1,95,5.5],
[105.5,-6.5,114,-7.5,114,-8.5,106,-7.5,105.5,-6.5],
[120,1,125,1,121,-1,123,-5,120,-5.5,119,-3,120,1],
[131,-1,135,-3,141,-2.5,147,-6,150,-10,145,-8,141,-9,138,-8,133,-4,131,-1],
[121,25,120.2,23,121,22,121,25],
[109,20,111,19.5,109.5,18.2,109,20],
[80,9.5,82,7,80.5,6,80,9.5],
[-85,22,-80,23,-75,20.5,-78,20,-82,22.5,-85,22],
[-74,19.7,-69,19.5,-68.5,18.3,-74,18.2,-74,19.7],
[-67,18.5,-65.7,18.4,-67,18,-67,18.5],
[-5,50,1,51,1,53,-2,56,-2,57.5,-5,58.5,-6,56,-3,54,-5,52,-5,50],
[-10,52,-6,52,-6,55,-9,54.5,-10,52],
[12.5,38,15.5,38,15,36.7,12.5,38],
[8.3,41,9.6,41,9.5,39,8.5,39,8.3,41],
[33,35.3,34.5,35.5,33,34.7,33,35.3],
[52,71,56,71,60,76,68,77,56,74,52,71],
[95,79,105,79,100,81,95,79],
[137,75,145,75.5,140,74,137,75],
[50,80,60,81,55,80,50,80],
[179,71,180,71.3,178,70.8,179,71],
[-179.4,-78,-160.5,-78.5,-152,-76,-146,-75.2,-135,-74.8,-126,-73.3,-112,-74,-102.4,-72.4,-100,-74.2,-90,-72.8,-80,-73.3,-75,-72,-72.8,-70.5,-68,-68,-64.5,-66.7,-60,-65,-56.2,-63.4,-61,-65.8,-62,-68,-58.6,-73.3,-51.4,-77,-42,-78,-34.8,-78.1,-26,-75,-20.6,-72.4,-10,-71,-1.7,-69.5,10,-70,19.7,-69.9,28,-69.5,36.3,-68,46,-67,55.2,-65.8,65,-68,74.2,-69.5,84,-67,97.9,-65.2,110,-66,126.3,-66.7,140,-67,150,-68.6,162,-70,171.4,-71.4,164.3,-75.2,166.6,-78,180,-77.4]
];

/* ---------- helpers ---------- */
const NS = "http://www.w3.org/2000/svg";
function mk(tag, attrs, parent){
  const el = document.createElementNS(NS, tag);
  for (const k in attrs) el.setAttribute(k, attrs[k]);
  parent.appendChild(el);
  return el;
}
const ax = {left:235.5, right:743.5, top:210.5, bottom:532};
const xVal = v => 489.5 + v * (ax.right - ax.left) / 12;
const yLat = lat => (ax.top + ax.bottom) / 2 - lat * (ax.bottom - ax.top) / 180;
function mapAxes(left){
  return {
    x: lon => left + (lon + 180) * 610.5 / 360,
    y: lat => 371.2 - lat * 321.5 / 180
  };
}
function colorFor(v){
  let i = 0;
  while (i < levelBounds.length && v >= levelBounds[i]) i++;
  return levelColors[i];
}

/* ---------- zonal panel ---------- */
const zonal = document.getElementById("zonal");
const clipA = mk("g", {"clip-path":"url(#clip-a)"}, zonal);



const hRef = mk("line", {x1:ax.left, x2:ax.right, y1:yLat(0), y2:yLat(0), stroke:"#c8c8c8", "stroke-width":2, "stroke-dasharray":"8 4"}, clipA);


const vRef = mk("line", {x1:xVal(0), x2:xVal(0), y1:ax.top, y2:ax.bottom, stroke:"#b4b4b4", "stroke-width":2, "stroke-dasharray":"8 4"}, clipA);



function drawBand(vals, spread, color, name){
  const up = lats.map((la,i) => xVal(vals[i] + spread[i]).toFixed(1) + "," + yLat(la).toFixed(1));
  const lo = lats.map((la,i) => xVal(vals[i] - spread[i]).toFixed(1) + "," + yLat(la).toFixed(1)).reverse();
  const p = mk("polygon", {points: up.concat(lo).join(" "), fill: color, "fill-opacity": .22}, clipA);
  
  
}
function drawLine(vals, color, w, dash, name){
  const pts = lats.map((la,i) => xVal(vals[i]).toFixed(1) + "," + yLat(la).toFixed(1)).join(" ");
  const attrs = {points: pts, fill:"none", stroke: color, "stroke-width": w, "stroke-linejoin":"round"};
  if (dash) attrs["stroke-dasharray"] = dash;
  const p = mk("polyline", attrs, clipA);
  
  
}
drawBand(mam3Values, mam3Spread, "#6b9a4c", "mam3-spread");
drawBand(mam7Values, mam7Spread, "#5e5ef5", "mam7-spread");
drawBand(marcValues, marcSpread, "#e00000", "marc-spread");
drawLine(mam3Values, "#6b9a4c", 3.6, "13 6", "mam3-line");
drawLine(mam7Values, "#5050f5", 3.6, "3.5 6", "mam7-line");
drawLine(marcValues, "#dd0000", 4, "", "marc-line");

const frameA = mk("rect", {x:ax.left, y:ax.top, width:ax.right-ax.left, height:ax.bottom-ax.top, fill:"none", stroke:"#000", "stroke-width":1.6}, zonal);



xTickValues.forEach(v => {
  const t = mk("line", {x1:xVal(v), x2:xVal(v), y1:ax.bottom, y2:ax.bottom+7, stroke:"#000", "stroke-width":1.6}, zonal);
  
  
  const l = mk("text", {x:xVal(v), y:565, "text-anchor":"middle", "font-size":22}, zonal);
  l.textContent = String(v).replace("-", "−");
  
  
});
yTickValues.forEach(v => {
  const t = mk("line", {x1:ax.left-7, x2:ax.left, y1:yLat(v), y2:yLat(v), stroke:"#000", "stroke-width":1.6}, zonal);
  
  
  const l = mk("text", {x:ax.left-13, y:yLat(v)+8, "text-anchor":"end", "font-size":22}, zonal);
  l.textContent = String(v).replace("-", "−");
  
  
});

/* ---------- maps ---------- */
function drawMap(id, left, clip, cells, regions, points, prefix){
  const root = document.getElementById(id);
  const A = mapAxes(left);
  const g = mk("g", {"clip-path":"url(#" + clip + ")"}, root);
  
  
  cells.forEach(band => {
    const latS = band[0], latN = band[1], runs = band[2];
    for (let i = 0; i < runs.length; i += 3) {
      const r = mk("rect", {
        x: A.x(runs[i]).toFixed(1),
        y: A.y(latN).toFixed(1),
        width: (A.x(runs[i+1]) - A.x(runs[i]) + .3).toFixed(1),
        height: (A.y(latS) - A.y(latN) + .3).toFixed(1),
        fill: colorFor(runs[i+2])
      }, g);
      
      
    }
  });
  const dots = mk("g", {fill:"none", stroke:"#8a8a8a", "stroke-width":.7, "stroke-opacity":.6}, g);
  
  
  regions.forEach(rg => {
    for (let lo = rg[0]; lo <= rg[1]; lo += 2.5) {
      for (let la = Math.min(rg[2],rg[3]); la <= Math.max(rg[2],rg[3]); la += 1.9) {
        mk("circle", {cx:A.x(lo).toFixed(1), cy:A.y(la).toFixed(1), r:1.2}, dots);
      }
    }
  });
  points.forEach(pt => {
    mk("circle", {cx:A.x(pt[0]).toFixed(1), cy:A.y(pt[1]).toFixed(1), r:1.2}, dots);
  });
  const coast = mk("g", {fill:"none", stroke:"#000", "stroke-width":2.9, "stroke-linejoin":"round", "stroke-linecap":"round"}, g);
  
  
  coastlines.forEach(c => {
    let pts = "";
    for (let i = 0; i < c.length; i += 2) pts += A.x(c[i]).toFixed(1) + "," + A.y(c[i+1]).toFixed(1) + " ";
    mk("polyline", {points: pts}, coast);
  });
  const f = mk("rect", {x:left, y:210.5, width:610.5, height:321.5, fill:"none", stroke:"#000", "stroke-width":1.8}, root);
  
  
}
drawMap("map-e", 783, "clip-e", mam3Cells, mam3StippleRegions, mam3StipplePoints, "mam3");
drawMap("map-f", 1433, "clip-f", marcCells, marcStippleRegions, marcStipplePoints, "marc");

/* ---------- colorbar ---------- */
const cbar = document.getElementById("cbar");
const cbX = i => 841 + i * (1986 - 841) / 12;
const cbTop = 647, cbBot = 695;
const lowTip = mk("polygon", {points:`782,671 ${cbX(0)},${cbTop} ${cbX(0)},${cbBot}`, fill:"#00003f", stroke:"#000", "stroke-width":1.5}, cbar);


const highTip = mk("polygon", {points:`2044,671 ${cbX(12)},${cbTop} ${cbX(12)},${cbBot}`, fill:"#3a0000", stroke:"#000", "stroke-width":1.5}, cbar);


levelColors.forEach((c,i) => {
  const r = mk("rect", {x:cbX(i), y:cbTop, width:cbX(1)-cbX(0)+.4, height:cbBot-cbTop, fill:c}, cbar);
  
  
});
const cbFrame = mk("rect", {x:cbX(0), y:cbTop, width:cbX(12)-cbX(0), height:cbBot-cbTop, fill:"none", stroke:"#000", "stroke-width":2}, cbar);


cbarTickLabels.forEach((s,i) => {
  const px = cbX(i * 2);
  const t = mk("line", {x1:px, x2:px, y1:cbBot, y2:cbBot+8, stroke:"#000", "stroke-width":1.6}, cbar);
  
  
  const l = mk("text", {x:px, y:731, "text-anchor":"middle", "font-size":26}, cbar);
  l.textContent = s;
  
  
});
</script>
</body>
</html>
